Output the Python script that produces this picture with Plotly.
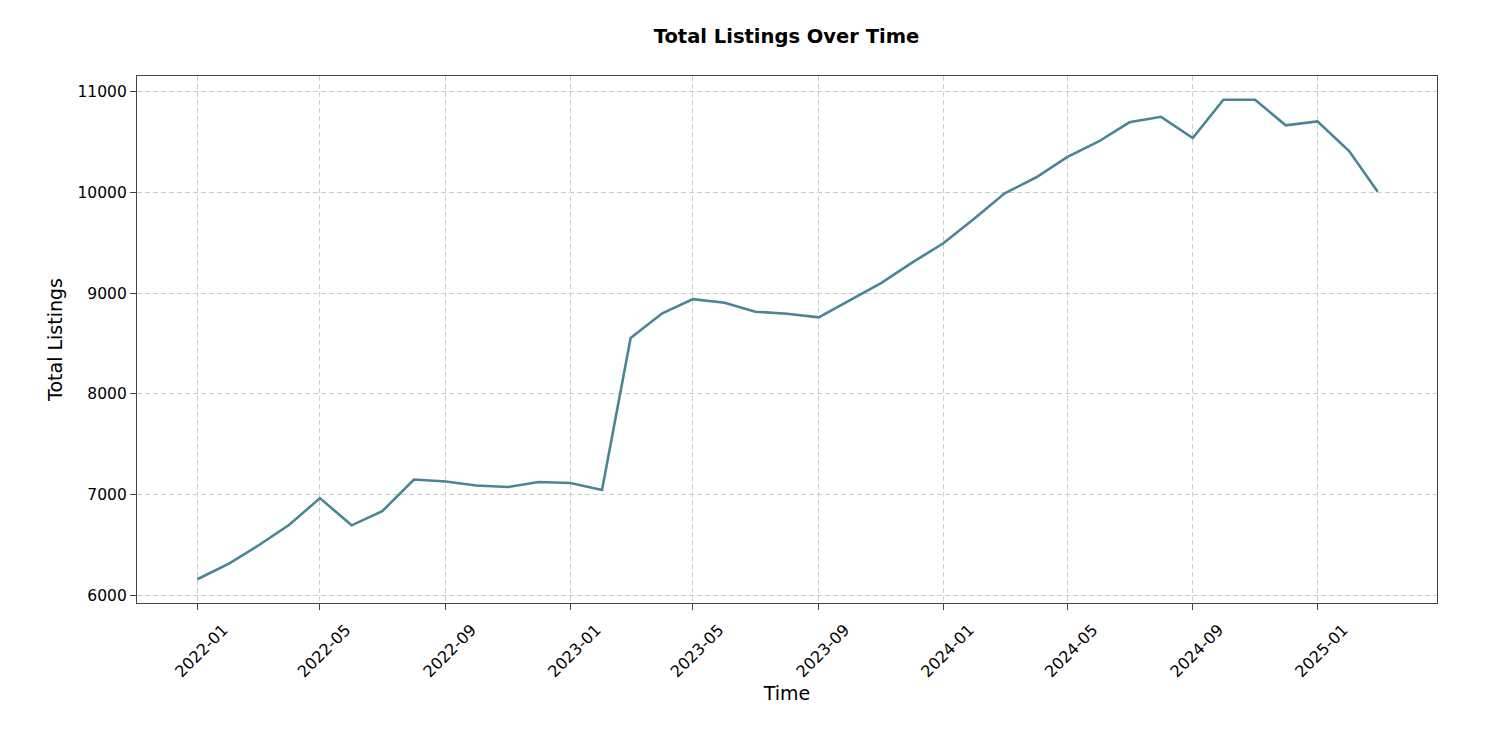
import plotly.graph_objects as go

months = ["2022-01", "2022-02", "2022-03", "2022-04", "2022-05", "2022-06", "2022-07", "2022-08",
          "2022-09", "2022-10", "2022-11", "2022-12", "2023-01", "2023-02", "2023-03", "2023-04",
          "2023-05", "2023-06", "2023-07", "2023-08", "2023-09", "2023-10", "2023-11", "2023-12",
          "2024-01", "2024-02", "2024-03", "2024-04", "2024-05", "2024-06", "2024-07", "2024-08",
          "2024-09", "2024-10", "2024-11", "2024-12", "2025-01", "2025-02", "2025-03"]
total_listings = [6160, 6315, 6490, 6700, 6965, 6695, 6835, 7150,
                  7130, 7090, 7075, 7125, 7115, 7045, 8555, 8800,
                  8940, 8905, 8815, 8795, 8760, 8930, 9100, 9300,
                  9495, 9745, 9990, 10150, 10350, 10505, 10695, 10750,
                  10540, 10920, 10920, 10665, 10705, 10410, 10005]

dates = [m + "-01" for m in months]

fig = go.Figure()
fig.add_trace(go.Scatter(
    x=dates, y=total_listings, mode="lines",
    line=dict(color="#4a8596", width=2.6),
    showlegend=False,
))

font = "DejaVu Sans, sans-serif"
fig.update_layout(
    width=1500, height=736,
    paper_bgcolor="white", plot_bgcolor="white",
    margin=dict(l=129, r=71, t=68, b=141),
    title=dict(text="<b>Total Listings Over Time</b>", x=0.519, xanchor="center",
               y=1 - 28 / 736, yanchor="middle",
               font=dict(family=font, size=19.5, color="black")),
    font=dict(family=font, size=15, color="black"),
)
axis_common = dict(
    showgrid=True, gridcolor="#cccccc", griddash="5px,3px", gridwidth=1,
    showline=True, linecolor="#444444", linewidth=1.3, mirror=True,
    ticks="outside", ticklen=6, tickcolor="#444444", tickwidth=1.2,
    zeroline=False,
)
fig.update_xaxes(
    type="date", range=["2021-11-03", "2025-04-28"],
    tickformat="%Y-%m", dtick="M4", tick0="2022-01-01", tickangle=-45,
    ticklabelshift=26, ticklabelstandoff=4,
    tickfont=dict(family=font, size=16, color="black"),
    title=dict(text="Time", font=dict(family=font, size=19, color="black"), standoff=6),
    **axis_common,
)
fig.update_yaxes(
    range=[5924, 11155], dtick=1000, tick0=6000, tickformat="d",
    tickfont=dict(family=font, size=15.5, color="black"),
    title=dict(text="Total Listings", font=dict(family=font, size=19, color="black"), standoff=9),
    **axis_common,
)

fig.write_html("out.html")
